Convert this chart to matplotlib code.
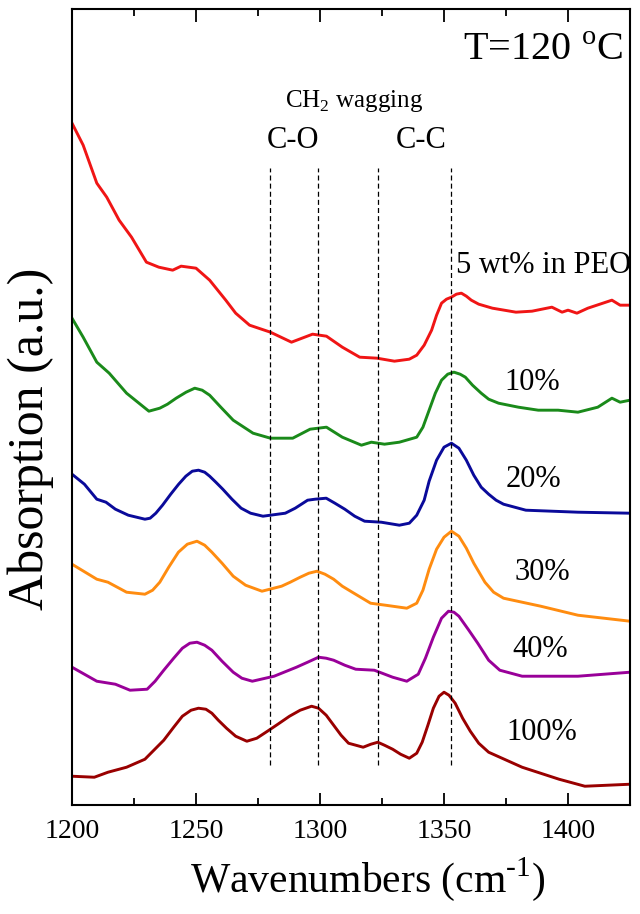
import matplotlib
matplotlib.use("Agg")
import matplotlib.pyplot as plt
import matplotlib.ticker as ticker

plt.rcParams["font.family"] = ["Liberation Serif", "DejaVu Serif"]
plt.rcParams["mathtext.fontset"] = "custom"
plt.rcParams["mathtext.rm"] = "Liberation Serif"

#
# Data (absorption in arbitrary units, curves offset)
#

wn_5 = [1200, 1204.5, 1210, 1214, 1219, 1224, 1230, 1235, 1240.6, 1244, 1250, 1255.5, 1262, 1266,
        1271.6, 1280, 1288.5, 1297, 1302.6, 1309, 1316, 1323, 1330, 1336, 1339, 1342, 1345, 1347,
        1349, 1351, 1353, 1355, 1357, 1359, 1361, 1364, 1369.5, 1379, 1385.5, 1393.5, 1397.6,
        1400, 1403.6, 1408, 1417.7, 1421, 1425]
abs_5 = [6.82, 6.60, 6.22, 6.08, 5.85, 5.68, 5.43, 5.38, 5.35, 5.39, 5.37, 5.25, 5.05, 4.92,
         4.80, 4.73, 4.63, 4.71, 4.69, 4.58, 4.48, 4.47, 4.44, 4.46, 4.50, 4.60, 4.75, 4.90,
         5.02, 5.06, 5.08, 5.11, 5.12, 5.09, 5.05, 5.01, 4.97, 4.93, 4.94, 4.98, 4.93,
         4.95, 4.92, 4.97, 5.05, 5.00, 5.00]

wn_10 = [1200, 1204.5, 1210, 1215, 1222, 1231, 1235.4, 1238.5, 1242, 1246, 1249.5, 1252.5, 1255.5,
         1260, 1265, 1273, 1280, 1289, 1296, 1302.6, 1309, 1316.7, 1320.7, 1326, 1332, 1339,
         1341.5, 1344, 1346.5, 1349, 1351.5, 1354, 1356.5, 1358.6, 1361.5, 1365, 1368, 1372,
         1380, 1388, 1396, 1404, 1412, 1417.7, 1421, 1425]
abs_10 = [4.87, 4.68, 4.43, 4.32, 4.12, 3.94, 3.97, 4.01, 4.07, 4.13, 4.17, 4.15, 4.10,
          3.98, 3.85, 3.72, 3.67, 3.67, 3.76, 3.78, 3.68, 3.60, 3.63, 3.61, 3.63, 3.68,
          3.78, 3.95, 4.12, 4.25, 4.31, 4.33, 4.31, 4.28, 4.20, 4.12, 4.06, 4.02,
          3.98, 3.95, 3.95, 3.93, 3.98, 4.07, 4.03, 4.05]

wn_20 = [1200, 1205, 1210, 1213.7, 1217.5, 1222.7, 1229.4, 1231.5, 1233.8, 1236.5, 1239.8, 1243,
         1245.9, 1248.5, 1251, 1253.5, 1255.5, 1258, 1260.8, 1264.5, 1268.2, 1272, 1277, 1286,
         1290, 1295, 1298, 1302.5, 1306, 1310, 1314, 1318, 1324.7, 1332, 1336, 1339, 1342, 1344,
         1347, 1350, 1353, 1356, 1359, 1362, 1365, 1368, 1371, 1374, 1383, 1404, 1425]
abs_20 = [3.31, 3.21, 3.06, 3.03, 2.96, 2.90, 2.86, 2.87, 2.92, 3.00, 3.11, 3.21,
          3.29, 3.34, 3.35, 3.33, 3.29, 3.23, 3.16, 3.06, 2.97, 2.92, 2.89, 2.92,
          2.97, 3.05, 3.06, 3.07, 3.02, 2.96, 2.89, 2.84, 2.83, 2.80, 2.82, 2.90, 3.05, 3.24,
          3.45, 3.58, 3.62, 3.57, 3.45, 3.30, 3.18, 3.11, 3.05, 3.01, 2.95, 2.93, 2.92]

wn_30 = [1200, 1210, 1214.5, 1222, 1229.4, 1232.5, 1235.4, 1239, 1242.9, 1246.5, 1250.4, 1253.5,
         1256.4, 1260.5, 1265, 1270, 1276.6, 1284.5, 1288, 1292, 1295.5, 1298.8, 1302, 1305.5,
         1309, 1313, 1320.4, 1326.4, 1335, 1339, 1341.5, 1344, 1347, 1350, 1353, 1356, 1359,
         1362, 1366.5, 1370, 1374, 1389, 1404, 1425]
abs_30 = [2.41, 2.26, 2.23, 2.13, 2.11, 2.15, 2.23, 2.38, 2.53, 2.61, 2.64, 2.60,
          2.53, 2.42, 2.29, 2.20, 2.14, 2.19, 2.23, 2.28, 2.32, 2.34, 2.31, 2.26,
          2.19, 2.13, 2.02, 2.00, 1.97, 2.02, 2.15, 2.36, 2.56, 2.68, 2.74, 2.69, 2.57,
          2.42, 2.23, 2.13, 2.07, 1.99, 1.90, 1.84]

wn_40 = [1200, 1210, 1217.5, 1223.4, 1230.3, 1233.5, 1237, 1241, 1244.5, 1247.5, 1250.4, 1253.5,
         1256.4, 1260.5, 1265, 1268.5, 1272.7, 1281.5, 1290.5, 1295, 1299.4, 1302.5, 1305.5,
         1310, 1314.4, 1321.9, 1329.3, 1335, 1339.6, 1342.5, 1345.7, 1349, 1351.8, 1354, 1356,
         1360, 1363.6, 1368, 1372.5, 1381.5, 1404, 1425]
abs_40 = [1.38, 1.24, 1.21, 1.15, 1.16, 1.24, 1.35, 1.47, 1.57, 1.62, 1.63, 1.60,
          1.55, 1.44, 1.33, 1.27, 1.24, 1.29, 1.38, 1.43, 1.48, 1.47, 1.45,
          1.40, 1.36, 1.35, 1.28, 1.24, 1.31, 1.47, 1.68, 1.87, 1.94, 1.93, 1.89,
          1.75, 1.62, 1.45, 1.35, 1.29, 1.29, 1.33]

wn_100 = [1200, 1209, 1214.5, 1222, 1229.4, 1233, 1237, 1241, 1244.5, 1248, 1251, 1254, 1256.4,
          1259, 1262.3, 1266, 1270.5, 1274.5, 1278.8, 1283, 1287.7, 1292, 1296.6, 1299.4, 1302.5,
          1305.5, 1308.5, 1311.5, 1317.4, 1320.5, 1323.3, 1326, 1329.3, 1332.5, 1336, 1339,
          1341.2, 1343.5, 1345.7, 1348, 1350, 1352, 1354.5, 1357.5, 1360.6, 1364, 1368, 1381.5,
          1396.4, 1406.8, 1425]
abs_100 = [0.29, 0.28, 0.33, 0.38, 0.46, 0.55, 0.65, 0.78, 0.89, 0.95, 0.97, 0.96, 0.92,
           0.85, 0.77, 0.69, 0.64, 0.67, 0.74, 0.81, 0.89, 0.95, 0.99, 0.97, 0.90,
           0.80, 0.70, 0.62, 0.58, 0.61, 0.63, 0.60, 0.56, 0.51, 0.47, 0.52,
           0.63, 0.80, 0.97, 1.09, 1.13, 1.10, 1.02, 0.87, 0.74, 0.62, 0.53, 0.38,
           0.26, 0.19, 0.21]

band_positions = [1280, 1299, 1323.5, 1353]

curve_labels = ["5 wt% in PEO", "10%", "20%", "30%", "40%", "100%"]
label_x = [1355, 1374.2, 1375, 1378.3, 1377.5, 1375]
label_y = [5.32, 4.15, 3.18, 2.25, 1.48, 0.65]

#
# Graph
#

fig = plt.figure(figsize=(6.4, 9.14), dpi=100)
ax = fig.add_axes([0.1125, 0.119, 0.8719, 0.871])

series = [
    (wn_5, abs_5, "#f01515"),
    (wn_10, abs_10, "#1a8a1a"),
    (wn_20, abs_20, "#0a0a9a"),
    (wn_30, abs_30, "#ff8c10"),
    (wn_40, abs_40, "#990099"),
    (wn_100, abs_100, "#990000"),
]
for wn, ab, color in series:
    ax.plot(wn, ab, color=color, lw=2.1, solid_joinstyle="round")

for pos in band_positions:
    ax.plot([pos, pos], [0.40, 6.37], color="black", lw=0.9, ls=(0, (4, 2.5)))

for text, x, y in zip(curve_labels, label_x, label_y):
    ax.text(x, y, text, fontsize=22, ha="left", va="baseline")

ax.text(1289.3, 6.57, "C-O", fontsize=22, ha="center", va="baseline")
ax.text(1340.8, 6.57, "C-C", fontsize=22, ha="center", va="baseline")
ax.text(1313.9, 6.98, r"CH$_2$ wagging", fontsize=18, ha="center", va="baseline")
ax.text(1422, 7.45, r"T=120 $^\mathrm{o}$C", fontsize=29, ha="right", va="baseline")

ax.set_xlim(1200, 1425)
ax.set_ylim(0, 7.96)
ax.xaxis.set_major_locator(ticker.MultipleLocator(50))
ax.xaxis.set_minor_locator(ticker.MultipleLocator(25))
ax.tick_params(axis="x", which="both", direction="in", top=True, labelsize=20, pad=10)
ax.tick_params(axis="x", which="major", length=9, width=1.3)
ax.tick_params(axis="x", which="minor", length=5, width=1.3)
ax.set_yticks([])
for spine in ax.spines.values():
    spine.set_linewidth(1.5)

ax.set_xlabel(r"Wavenumbers (cm$^{\text{-1}}$)", fontsize=30, labelpad=8)
ax.xaxis.label.set_x(0.529)
ax.set_ylabel("Absorption (a.u.)", fontsize=36, labelpad=13)
ax.yaxis.label.set_y(0.46)

fig.savefig("out.png", dpi=100)
